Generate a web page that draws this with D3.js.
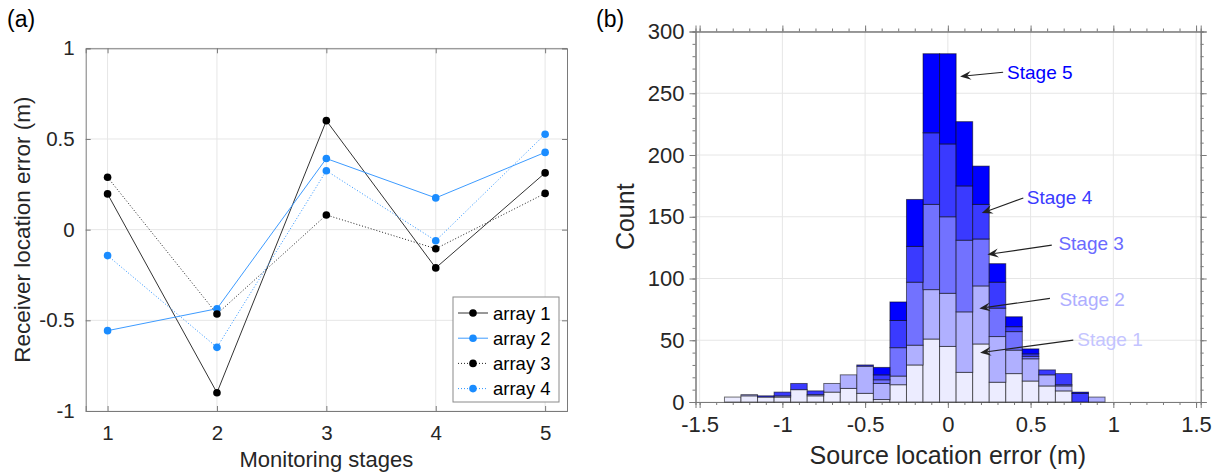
<!DOCTYPE html>
<html><head><meta charset="utf-8">
<script src="https://cdn.jsdelivr.net/npm/d3@7"></script>
<style>
html,body{margin:0;padding:0;background:#fff;}
svg{display:block;font-family:"Liberation Sans",Arial,Helvetica,sans-serif;}
</style></head>
<body><svg id="c" width="1218" height="475"></svg>
<script>
// ---------- Panel (a) data ----------
const stagesA = [1, 2, 3, 4, 5];
const array1 = [0.197, -0.899, 0.601, -0.211, 0.313];
const array2 = [-0.557, -0.436, 0.392, 0.175, 0.426];
const array3 = [0.289, -0.465, 0.081, -0.105, 0.200];
const array4 = [-0.143, -0.649, 0.325, -0.061, 0.526];
const seriesNames = ["array 1", "array 2", "array 3", "array 4"];
const yTicksA = [-1, -0.5, 0, 0.5, 1];

// ---------- Panel (b) data ----------
const binCenters = [-1.4,-1.3,-1.2,-1.1,-1.0,-0.9,-0.8,-0.7,-0.6,-0.5,-0.4,-0.3,-0.2,-0.1,0,0.1,0.2,0.3,0.4,0.5,0.6,0.7,0.8,0.9,1.0,1.1,1.2,1.3,1.4];
const stage1 = [0,4,5,4,4,10,5,8,11,7,2,14,30,51,45,24,47,16,23,17,13,9,0,0,0,0,0,0,0];
const stage2 = [0,0,1,0,1,0,1,7,11,22,13,7,16,40,43,49,47,37,19,18,9,4,0,4,0,0,0,0,0];
const stage3 = [0,0,0,0,0,0,0,0,0,0,3,23,51,69,62,58,38,23,15,2,0,1,0,0,0,0,0,0,0];
const stage4 = [0,0,0,1,3,5,3,0,0,1,4,22,29,58,59,44,28,21,4,2,4,9,7,0,0,0,0,0,0];
const stage5 = [0,0,0,0,0,0,0,0,0,0,6,15,38,64,73,52,31,15,8,4,0,0,1,0,0,0,0,0,0];
const stageNames = ["Stage 1","Stage 2","Stage 3","Stage 4","Stage 5"];
const xTicksB = [-1.5,-1,-0.5,0,0.5,1,1.5];
const yTicksB = [0,50,100,150,200,250,300];
// annotation anchors in data units
const annText = [0.782, 0.674, 0.668, 0.477, 0.358];
const annTextY = [50.7, 83, 128.8, 166, 267];
const annTail = [[0.758,50.1],[0.617,83.9],[0.628,127],[0.456,165.2],[0.334,267]];
const annHead = [[0.195,39.9],[0.19,75.8],[0.239,119.4],[0.205,153],[0.074,263.6]];

// ---------- styles ----------
const blue = "#1a8cff";
const stageFill = ["#ececff","#b0b0ff","#7272ff","#3a3aff","#0000ff"];
const stageText = ["#c4c4ff","#aeaeff","#6a6aff","#3a3aff","#0000ff"];
const axisCol = "#7a7a7a", textCol = "#262626", gridCol = "#e6e6e6";

const svg = d3.select("#c");

// ================= Panel (a) =================
const xa = d3.scaleLinear().domain([0.8, 5.2]).range([85.7, 567]);
const ya = d3.scaleLinear().domain([-1, 1]).range([411, 48.3]);
const ga = svg.append("g");

ga.selectAll("line.gx").data(stagesA).join("line")
  .attr("x1", d => xa(d)).attr("x2", d => xa(d)).attr("y1", ya(-1)).attr("y2", ya(1))
  .attr("stroke", gridCol).attr("stroke-width", 1);
ga.selectAll("line.gy").data(yTicksA).join("line")
  .attr("y1", d => ya(d)).attr("y2", d => ya(d)).attr("x1", xa.range()[0]).attr("x2", xa.range()[1])
  .attr("stroke", gridCol).attr("stroke-width", 1);

function styleAxis(g, fs) {
  g.select(".domain").attr("stroke", axisCol);
  g.selectAll(".tick line").attr("stroke", axisCol);
  g.selectAll(".tick text").attr("fill", textCol).style("font-size", fs + "px")
   .style("font-family", '"Liberation Sans",Arial,sans-serif');
}
const axBa = ga.append("g").attr("transform", `translate(0,${ya(-1)})`)
  .call(d3.axisBottom(xa).tickValues(stagesA).tickFormat(d3.format("d")).tickSize(-5).tickPadding(14));
styleAxis(axBa, 20.5);
const axTa = ga.append("g").attr("transform", `translate(0,${ya(1)})`)
  .call(d3.axisTop(xa).tickValues(stagesA).tickFormat("").tickSize(-5));
styleAxis(axTa, 20);
const fmtA = d => String(d);
const axLa = ga.append("g").attr("transform", `translate(${xa(0.8)},0)`)
  .call(d3.axisLeft(ya).tickValues(yTicksA).tickFormat(fmtA).tickSize(-5).tickPadding(11));
styleAxis(axLa, 20.5);
const axRa = ga.append("g").attr("transform", `translate(${xa(5.2)},0)`)
  .call(d3.axisRight(ya).tickValues(yTicksA).tickFormat("").tickSize(-5));
styleAxis(axRa, 20);

const seriesA = [
  {name: seriesNames[0], vals: array1, color: "#000", dash: null, lineColor: "#333"},
  {name: seriesNames[1], vals: array2, color: blue, dash: null, lineColor: "#3d9bff"},
  {name: seriesNames[2], vals: array3, color: "#000", dash: "1,2", lineColor: "#222"},
  {name: seriesNames[3], vals: array4, color: blue, dash: "1,2", lineColor: "#2b93ff"}
];
const lineA = d3.line().x((d, i) => xa(stagesA[i])).y(d => ya(d));
seriesA.forEach(s => {
  ga.append("path").datum(s.vals).attr("d", lineA).attr("fill", "none")
    .attr("stroke", s.lineColor).attr("stroke-width", 1)
    .attr("stroke-dasharray", s.dash);
});
seriesA.forEach(s => {
  ga.selectAll(null).data(s.vals).join("circle")
    .attr("cx", (d, i) => xa(stagesA[i])).attr("cy", d => ya(d)).attr("r", 3.8)
    .attr("fill", s.color);
});

// legend
const lg = ga.append("g").attr("transform", "translate(453,297)");
lg.append("rect").attr("width", 106).attr("height", 105).attr("fill", "#fff")
  .attr("stroke", "#8a8a8a").attr("stroke-width", 1);
seriesA.forEach((s, i) => {
  const yy = 16 + i * 25.2;
  lg.append("line").attr("x1", 5).attr("x2", 35).attr("y1", yy).attr("y2", yy)
    .attr("stroke", s.lineColor).attr("stroke-width", 1).attr("stroke-dasharray", s.dash);
  lg.append("circle").attr("cx", 20).attr("cy", yy).attr("r", 3.8).attr("fill", s.color);
  lg.append("text").attr("x", 40).attr("y", yy + 6.5).text(s.name)
    .attr("fill", "#000").style("font-size", "18.5px");
});

ga.append("text").attr("x", xa(3)).attr("y", 467).attr("text-anchor", "middle")
  .attr("fill", textCol).style("font-size", "22px").text("Monitoring stages");
ga.append("text").attr("transform", `translate(30,${ya(0)}) rotate(-90)`).attr("text-anchor", "middle")
  .attr("fill", textCol).style("font-size", "22.5px").text("Receiver location error (m)");
svg.append("text").attr("x", 7).attr("y", 27).attr("fill", "#000").style("font-size", "23px").text("(a)");

// ================= Panel (b) =================
const xb = d3.scaleLinear().domain([-1.525, 1.528]).range([695.5, 1200.7]);
const yb = d3.scaleLinear().domain([0, 300]).range([402, 31.5]);
const gb = svg.append("g");

gb.selectAll("line.gx").data(xTicksB).join("line")
  .attr("x1", d => xb(d)).attr("x2", d => xb(d)).attr("y1", yb(0)).attr("y2", yb(300))
  .attr("stroke", gridCol).attr("stroke-width", 1);
gb.selectAll("line.gy").data(yTicksB).join("line")
  .attr("y1", d => yb(d)).attr("y2", d => yb(d)).attr("x1", xb.range()[0]).attr("x2", xb.range()[1])
  .attr("stroke", gridCol).attr("stroke-width", 1);

const minorX = d3.range(-15, 16).map(d => d / 10);
const minorY = d3.range(0, 301, 10);
function axesB(axisFn, pos, isX) {
  const sc = isX ? xb : yb;
  const g1 = gb.append("g").attr("transform", isX ? `translate(0,${pos})` : `translate(${pos},0)`)
    .call(axisFn(sc).tickValues(isX ? minorX : minorY).tickFormat("").tickSize(3));
  styleAxis(g1, 20);
  return g1;
}
axesB(d3.axisBottom, yb(0), true);
axesB(d3.axisTop, yb(300), true);
axesB(d3.axisLeft, xb.range()[0], false);
axesB(d3.axisRight, xb.range()[1], false);
const fmtB = d => String(d);
const axBb = gb.append("g").attr("transform", `translate(0,${yb(0)})`)
  .call(d3.axisBottom(xb).tickValues(xTicksB).tickFormat(fmtB).tickSize(6).tickPadding(8));
styleAxis(axBb, 22);
const axTb = gb.append("g").attr("transform", `translate(0,${yb(300)})`)
  .call(d3.axisTop(xb).tickValues(xTicksB).tickFormat("").tickSize(6));
styleAxis(axTb, 22);
const axLb = gb.append("g").attr("transform", `translate(${xb.range()[0]},0)`)
  .call(d3.axisLeft(yb).tickValues(yTicksB).tickFormat(d3.format("d")).tickSize(6).tickPadding(5));
styleAxis(axLb, 22);
const axRb = gb.append("g").attr("transform", `translate(${xb.range()[1]},0)`)
  .call(d3.axisRight(yb).tickValues(yTicksB).tickFormat("").tickSize(6));
styleAxis(axRb, 22);

// stacked histogram
const stageArrays = [stage1, stage2, stage3, stage4, stage5];
const table = binCenters.map((c, i) => {
  const o = {c};
  stageNames.forEach((n, k) => o[n] = stageArrays[k][i]);
  return o;
});
const stacked = d3.stack().keys(stageNames)(table);
const binW = 0.1;
stacked.forEach((layer, k) => {
  gb.append("g").selectAll("rect").data(layer).join("rect")
    .attr("x", d => xb(d.data.c - binW / 2))
    .attr("width", d => xb(d.data.c + binW / 2) - xb(d.data.c - binW / 2))
    .attr("y", d => yb(d[1]))
    .attr("height", d => yb(d[0]) - yb(d[1]))
    .attr("fill", stageFill[k])
    .attr("stroke", "rgba(0,0,0,0.55)").attr("stroke-width", 1);
});

// annotations
const ann = gb.append("g");
stageNames.forEach((n, k) => {
  const t = annTail[k], h = annHead[k];
  const x1 = xb(t[0]), y1 = yb(t[1]), x2 = xb(h[0]), y2 = yb(h[1]);
  const ang = Math.atan2(y2 - y1, x2 - x1);
  const L = 11, W = 4.5, back = 7;
  const bx = x2 - L * Math.cos(ang), by = y2 - L * Math.sin(ang);
  const px = -Math.sin(ang), py = Math.cos(ang);
  const mx = x2 - back * Math.cos(ang), my = y2 - back * Math.sin(ang);
  ann.append("line").attr("x1", x1).attr("y1", y1).attr("x2", mx).attr("y2", my)
    .attr("stroke", "#222").attr("stroke-width", 1.1);
  ann.append("path")
    .attr("d", `M${x2},${y2} L${bx + W * px},${by + W * py} L${mx},${my} L${bx - W * px},${by - W * py} Z`)
    .attr("fill", "#222");
  ann.append("text").attr("x", xb(annText[k])).attr("y", yb(annTextY[k]))
    .attr("dy", "0.35em").attr("fill", stageText[k]).style("font-size", "19px").text(n);
});

gb.append("text").attr("x", xb(0)).attr("y", 464).attr("text-anchor", "middle")
  .attr("fill", textCol).style("font-size", "25px").text("Source location error (m)");
gb.append("text").attr("transform", `translate(634,${yb(150)}) rotate(-90)`).attr("text-anchor", "middle")
  .attr("fill", textCol).style("font-size", "25px").text("Count");
svg.append("text").attr("x", 596).attr("y", 27).attr("fill", "#000").style("font-size", "23px").text("(b)");
</script>
</body></html>
